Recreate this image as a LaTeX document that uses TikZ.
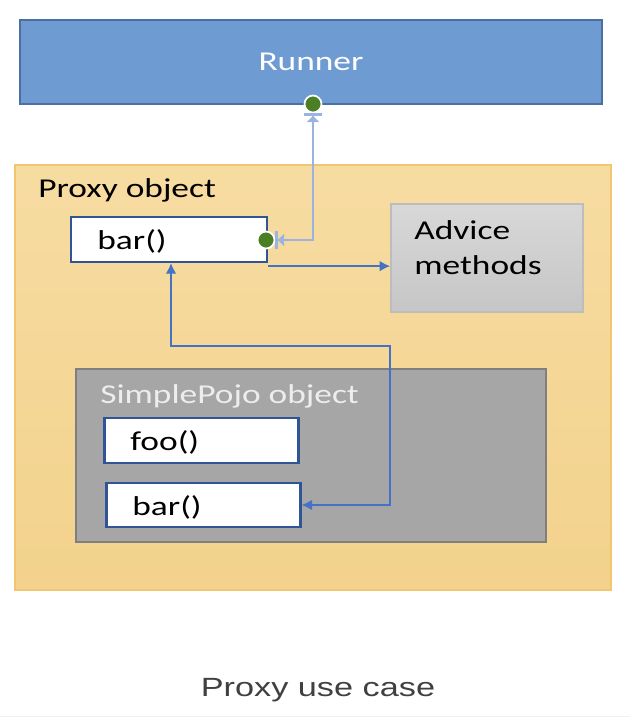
\documentclass[tikz,border=0pt]{standalone}
\usepackage{fontspec}
\setmainfont[FakeStretch=1.3]{Carlito}
\newfontfamily\capfont[FakeStretch=1.3]{Liberation Sans}
\usetikzlibrary{arrows.meta,positioning,calc}
\definecolor{RunnerBlue}{HTML}{6F9BD3}
\definecolor{RunnerEdge}{HTML}{4A6FA5}
\definecolor{ProxyTop}{HTML}{F7DCA2}
\definecolor{ProxyBottom}{HTML}{F2D28C}
\definecolor{ProxyEdge}{HTML}{F2C66E}
\definecolor{MethodEdge}{HTML}{2F5597}
\definecolor{AdviceTop}{HTML}{D8D8D8}
\definecolor{AdviceBottom}{HTML}{C6C6C6}
\definecolor{AdviceEdge}{HTML}{BDBDBD}
\definecolor{PojoFill}{HTML}{A6A6A6}
\definecolor{PojoEdge}{HTML}{7F7F7F}
\definecolor{FlowBlue}{HTML}{4472C4}
\definecolor{CallBlue}{HTML}{9AB3DF}
\definecolor{DotGreen}{HTML}{4A7F25}
\definecolor{CaptionGrey}{HTML}{404040}

\begin{document}
\begin{tikzpicture}[x=0.02cm,y=-0.02cm,
  every node/.style={font=\fontsize{15.5}{20}\selectfont},
  panel/.style={draw,inner sep=0pt},
  method/.style={panel,draw=MethodEdge,line width=1.3pt,fill=white,minimum width=3.88cm,minimum height=0.9cm},
  txt/.style={anchor=west,inner sep=0pt},
  dot/.style={circle,fill=DotGreen,draw=white,line width=1pt,minimum size=0.34cm,inner sep=0pt},
  flow/.style={FlowBlue,line width=0.8pt},
  calltip/.tip={Triangle[length=3.5pt,width=7pt]Bar[width=10pt,line width=1.5pt]},
  call/.style={CallBlue,line width=1.5pt,{calltip}-{calltip}}]
  \useasboundingbox (0,0) rectangle (630,718);

  % runner on top
  \node[panel,draw=RunnerEdge,line width=1.3pt,fill=RunnerBlue,text=white,
        minimum width=11.64cm,minimum height=1.68cm] (runner) at (311,62) {Runner};

  % proxy object
  \node[panel,draw=ProxyEdge,line width=0.8pt,top color=ProxyTop,bottom color=ProxyBottom,
        minimum width=11.92cm,minimum height=8.5cm] (proxy) at (313,377.5) {};
  \node[txt] (proxytitle) at (38,190) {Proxy object};
  \node[method,minimum width=3.92cm] (pbar) at (169,239.5) {};
  \node[txt] (pbartext) at (97,241) {bar()};

  \node[panel,draw=AdviceEdge,line width=1pt,top color=AdviceTop,bottom color=AdviceBottom,
        minimum width=3.84cm,minimum height=2.16cm] (advice) at (487,258) {};
  \node[txt,align=left] (advicetext) at (414,248) {Advice\\methods};

  % target object inside the proxy
  \node[panel,draw=PojoEdge,line width=1.3pt,fill=PojoFill,
        minimum width=9.4cm,minimum height=3.46cm] (pojo) at (311,455.5) {};
  \node[txt,text=white!93!black] (pojotitle) at (100,396) {SimplePojo object};
  \node[method] (foo) at (201.5,440.5) {};
  \node[txt] (footext) at (130,442) {foo()};
  \node[method,minimum height=0.88cm] (ibar) at (203.5,505) {};
  \node[txt] (ibartext) at (132,507) {bar()};

  % call from runner
  \node[dot] (rdot) at (313,104) {};
  \node[dot] (bdot) at (266,240) {};
  \draw[call] (rdot.south) |- (bdot.east);

  \draw[flow,-{Latex[length=6pt,width=6pt]}] ([yshift=-0.06cm]pbar.south east) -- ([yshift=-0.06cm]pbar.south east -| advice.west);
  \coordinate (turn) at (390,346);
  \draw[flow,{Latex[length=6pt,width=6pt]}-{Latex[length=6pt,width=6pt]}] ([xshift=0.04cm]pbar.south) |- (turn) |- (ibar.east);

  \node[font=\capfont\fontsize{15}{18}\selectfont,text=CaptionGrey] (caption) at (318,690) {Proxy use case};
  \draw[black!6] (0,716.5) -- (630,716.5);
\end{tikzpicture}
\end{document}
